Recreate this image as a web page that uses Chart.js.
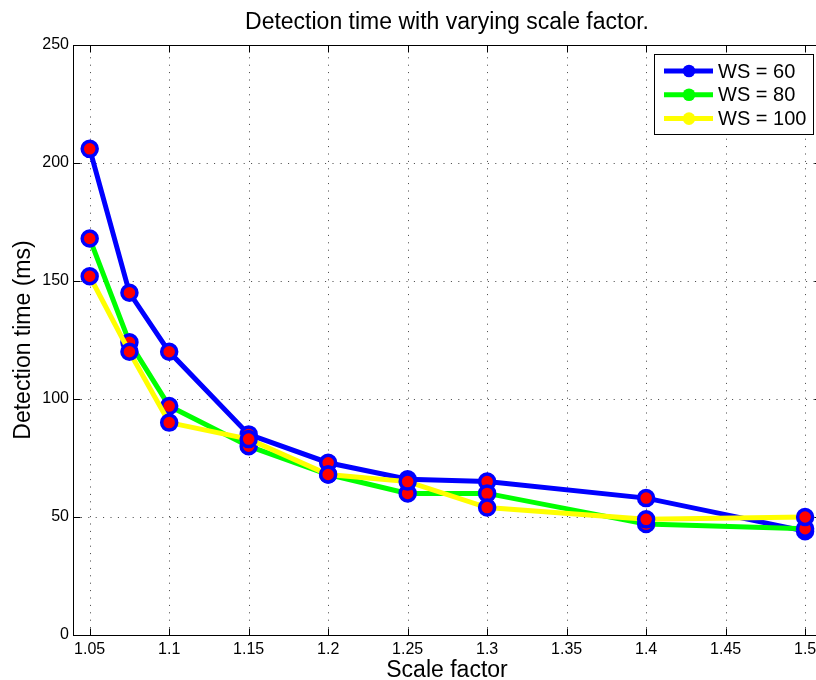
<!DOCTYPE html>
<html>
<head>
<meta charset="utf-8">
<title>Detection time with varying scale factor</title>
<script src="https://cdn.jsdelivr.net/npm/chart.js@4.4.1/dist/chart.umd.min.js"></script>
<style>
  html, body { margin: 0; padding: 0; background: #fff; overflow: hidden; }
  #wrap { width: 840px; height: 680px; }
</style>
</head>
<body>
<div id="wrap"><canvas id="chart" width="840" height="680"></canvas></div>
<script>
(() => {
  ///////////////////////////////////////////////////////////////
  // data
  ///////////////////////////////////////////////////////////////

  const scaleFactors = [1.05, 1.075, 1.1, 1.15, 1.2, 1.25, 1.3, 1.4, 1.5];
  const ws60  = [206, 145, 120, 85, 73, 66, 65, 58, 44];
  const ws80  = [168, 124, 97, 80, 68, 60, 60, 47, 45];
  const ws100 = [152, 120, 90, 83, 68, 65, 54, 49, 50];

  const xTicks = [1.05, 1.1, 1.15, 1.2, 1.25, 1.3, 1.35, 1.4, 1.45, 1.5];
  const yTicks = [0, 50, 100, 150, 200, 250];

  const seriesLabels = ['WS = 60', 'WS = 80', 'WS = 100'];
  const seriesColors = ['#0000ff', '#00ff00', '#ffff00'];

  const FONT = "'Liberation Sans', Arial, Helvetica, sans-serif";

  ///////////////////////////////////////////////////////////////
  // helpers
  ///////////////////////////////////////////////////////////////

  function points(values) {
    return scaleFactors.map((x, i) => ({ x, y: values[i] }));
  }

  function makeSeries(values, idx) {
    return {
      label: seriesLabels[idx],
      data: points(values),
      borderColor: seriesColors[idx],
      borderWidth: 5,
      tension: 0,
      fill: false,
      pointRadius: 7.5,
      pointBorderWidth: 3.5,
      pointBackgroundColor: '#ff0000',
      pointBorderColor: '#0000ff',
      order: 3 - idx, // yellow drawn last, like the plot order
    };
  }

  // dotted grid, box and inward ticks (matlab look)
  const matlabAxes = {
    id: 'matlabAxes',
    beforeDatasetsDraw(chart) {
      const { ctx, chartArea: a, scales: { x, y } } = chart;
      const L = Math.round(a.left) + 0.5;
      const R = Math.round(a.right) + 0.5;
      const T = Math.round(a.top) + 0.5;
      const B = Math.round(a.bottom) + 0.5;
      const tickLen = 7;

      ctx.save();
      ctx.lineWidth = 1;

      ctx.strokeStyle = 'rgba(0,0,0,0.75)';
      ctx.setLineDash([1, 6.4]);
      xTicks.forEach(v => {
        const px = Math.round(x.getPixelForValue(v)) + 0.5;
        ctx.beginPath(); ctx.moveTo(px, B); ctx.lineTo(px, T); ctx.stroke();
      });
      yTicks.forEach(v => {
        if (v === y.min || v === y.max) return;
        const py = Math.round(y.getPixelForValue(v)) + 0.5;
        ctx.beginPath(); ctx.moveTo(L, py); ctx.lineTo(R, py); ctx.stroke();
      });

      ctx.setLineDash([]);
      ctx.strokeStyle = '#000';
      ctx.strokeRect(L, T, R - L, B - T);

      ctx.beginPath();
      xTicks.forEach(v => {
        const px = Math.round(x.getPixelForValue(v)) + 0.5;
        ctx.moveTo(px, B); ctx.lineTo(px, B - tickLen);
        ctx.moveTo(px, T); ctx.lineTo(px, T + tickLen);
      });
      yTicks.forEach(v => {
        const py = Math.round(y.getPixelForValue(v)) + 0.5;
        ctx.moveTo(L, py); ctx.lineTo(L + tickLen, py);
        ctx.moveTo(R, py); ctx.lineTo(R - tickLen, py);
      });
      ctx.stroke();
      ctx.restore();
    }
  };

  // boxed legend, top right inside the axes
  const boxLegend = {
    id: 'boxLegend',
    afterDatasetsDraw(chart) {
      const { ctx, chartArea: a } = chart;
      const left = Math.round(a.right) - 166.5;
      const top = Math.round(a.top) + 9.5;
      const w = 159, h = 80;

      ctx.save();
      ctx.fillStyle = '#fff';
      ctx.fillRect(left, top, w, h);
      ctx.strokeStyle = '#000';
      ctx.lineWidth = 1;
      ctx.strokeRect(left, top, w, h);

      ctx.font = `20px ${FONT}`;
      ctx.textBaseline = 'middle';
      chart.data.datasets.forEach((ds, i) => {
        const cy = top + 16.5 + i * 23.8;
        const x0 = left + 9.5;
        ctx.strokeStyle = ds.borderColor;
        ctx.lineWidth = 5;
        ctx.beginPath(); ctx.moveTo(x0, cy); ctx.lineTo(x0 + 49, cy); ctx.stroke();
        ctx.fillStyle = ds.borderColor;
        ctx.beginPath(); ctx.arc(x0 + 25, cy, 6.3, 0, Math.PI * 2); ctx.fill();
        ctx.fillStyle = '#000';
        ctx.fillText(ds.label, x0 + 54, cy + 1);
      });
      ctx.restore();
    }
  };

  ///////////////////////////////////////////////////////////////
  // chart
  ///////////////////////////////////////////////////////////////

  const ctx = document.getElementById('chart').getContext('2d');

  new Chart(ctx, {
    type: 'line',
    data: {
      datasets: [makeSeries(ws60, 0), makeSeries(ws80, 1), makeSeries(ws100, 2)]
    },
    options: {
      responsive: false,
      animation: false,
      events: [],
      layout: { autoPadding: false, padding: { top: 0, right: 19, bottom: 0, left: 0 } },
      plugins: {
        legend: { display: false },
        tooltip: { enabled: false },
        title: {
          display: true,
          fullSize: false,
          text: 'Detection time with varying scale factor.',
          color: '#000',
          font: { family: FONT, size: 23, weight: 'normal', lineHeight: 1.2 },
          padding: { top: 8.7, bottom: 8.7 }
        }
      },
      scales: {
        x: {
          type: 'linear',
          min: 1.0395,
          max: 1.51,
          afterBuildTicks: (s) => { s.ticks = xTicks.map(v => ({ value: v })); },
          afterFit: (s) => { s.height = 45; },
          grid: { display: false, drawTicks: false },
          border: { display: false },
          ticks: {
            autoSkip: false,
            maxRotation: 0,
            padding: 5,
            color: '#000',
            font: { family: FONT, size: 16 },
            callback: (v) => String(Number(Number(v).toFixed(3)))
          },
          title: {
            display: true,
            text: 'Scale factor',
            color: '#000',
            font: { family: FONT, size: 23, lineHeight: 0.78 },
            padding: 0
          }
        },
        y: {
          min: 0,
          max: 250,
          afterBuildTicks: (s) => { s.ticks = yTicks.map(v => ({ value: v })); },
          afterFit: (s) => { s.width = 73; },
          grid: { display: false, drawTicks: false },
          border: { display: false },
          ticks: {
            padding: 4,
            color: '#000',
            font: { family: FONT, size: 16 }
          },
          title: {
            display: true,
            text: 'Detection time (ms)',
            color: '#000',
            font: { family: FONT, size: 23 },
            padding: { top: 10, bottom: 0 }
          }
        }
      }
    },
    plugins: [matlabAxes, boxLegend]
  });
})();
</script>
</body>
</html>
